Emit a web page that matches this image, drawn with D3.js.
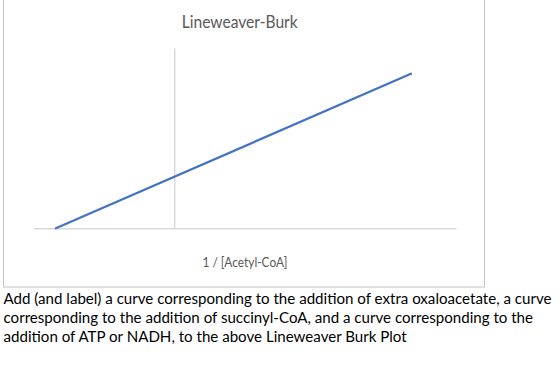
<!DOCTYPE html>
<html>
<head>
<meta charset="utf-8">
<script src="https://cdn.jsdelivr.net/npm/d3@7"></script>
<style>
  html, body { margin: 0; padding: 0; background: #fff; }
  svg { display: block; }
</style>
</head>
<body>
<svg id="chart" width="560" height="390"></svg>
<script>
// ---- data ----
const chartTitle = "Lineweaver-Burk";
const xAxisTitle = "1 / [Acetyl-CoA]";
const xDomain = [-1, 2];
const yDomain = [0, 3.5];
const seriesX = [-0.84, 1.68];
const seriesY = [0, 3];
const questionLines = [
  "Add (and label) a curve corresponding to the addition of extra oxaloacetate, a curve",
  "corresponding to the addition of succinyl-CoA, and a curve corresponding to the",
  "addition of ATP or NADH, to the above Lineweaver Burk Plot"
];

const svg = d3.select("#chart");
const font = "Lato, 'Open Sans', 'Noto Sans', sans-serif";

// chart frame
svg.append("rect")
  .attr("x", 3.5).attr("y", -2)
  .attr("width", 481).attr("height", 289)
  .attr("fill", "#fff").attr("stroke", "#c4c4c4").attr("stroke-width", 1);

const x = d3.scaleLinear().domain(xDomain).range([33.3, 456]);
const y = d3.scaleLinear().domain(yDomain).range([228.3, 48]);

function fitWidth(sel, target) {
  sel.attr("textLength", target).attr("lengthAdjust", "spacingAndGlyphs");
}

// title
const t = svg.append("text")
  .attr("x", 239.7).attr("y", 27.7)
  .attr("text-anchor", "middle")
  .attr("font-family", font).attr("font-size", 16.5)
  .attr("fill", "#595959")
  .text(chartTitle);
fitWidth(t, 116);

// axes (no ticks, no labels)
const xAxis = d3.axisBottom(x).tickValues([]).tickSizeOuter(0);
const gx = svg.append("g").attr("transform", `translate(0,${y(0)})`).call(xAxis);
gx.select(".domain").attr("stroke", "#d9d9d9").attr("stroke-width", 1.5);

const yAxis = d3.axisLeft(y).tickValues([]).tickSizeOuter(0);
const gy = svg.append("g").attr("transform", `translate(${x(0)},0)`).call(yAxis);
gy.select(".domain").attr("stroke", "#d9d9d9").attr("stroke-width", 1.5);

// series line
const pts = seriesX.map((v, i) => [v, seriesY[i]]);
svg.append("path")
  .datum(pts)
  .attr("fill", "none")
  .attr("stroke", "#4472C4")
  .attr("stroke-width", 2.25)
  .attr("stroke-linecap", "round")
  .attr("d", d3.line().x(d => x(d[0])).y(d => y(d[1])));

// axis title
const at = svg.append("text")
  .attr("x", 245).attr("y", 266.7)
  .attr("text-anchor", "middle")
  .attr("font-family", font).attr("font-size", 12.8)
  .attr("fill", "#595959")
  .text(xAxisTitle);
fitWidth(at, 85);

// question text
const q = svg.append("g");
questionLines.forEach((line, i) => {
  q.append("text")
    .attr("x", 3.5).attr("y", 304 + i * 19.1)
    .attr("font-family", font).attr("font-size", 14.8)
    .attr("fill", "#000")
    .text(line);
});
const firstW = q.select("text").node().getComputedTextLength();
const ratio = 548 / firstW;
q.selectAll("text").each(function () {
  const w = this.getComputedTextLength();
  d3.select(this).attr("textLength", w * ratio).attr("lengthAdjust", "spacingAndGlyphs");
});
</script>
</body>
</html>
